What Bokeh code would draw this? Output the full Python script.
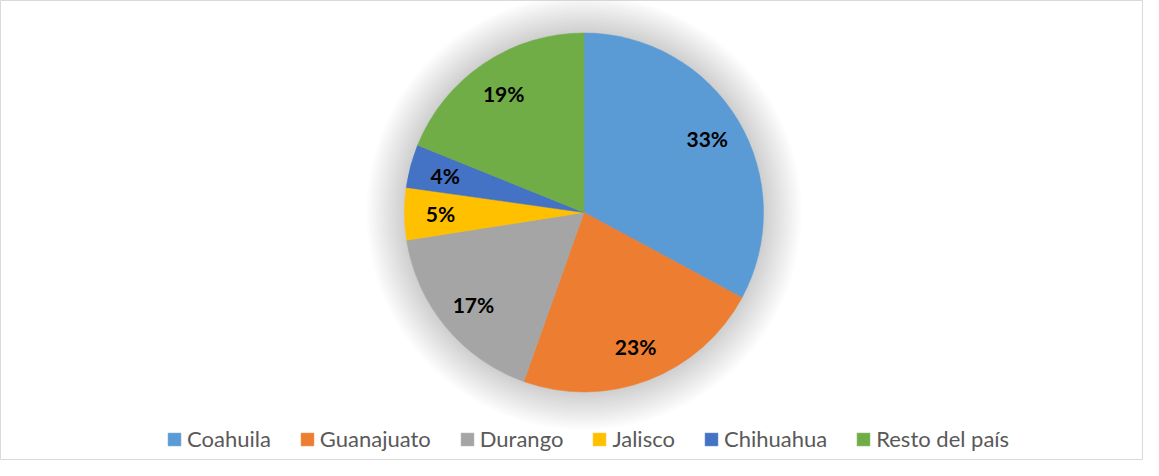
import numpy as np
from bokeh.plotting import figure
from bokeh.models import Range1d, Legend, LegendItem, ColumnDataSource
from bokeh.core.properties import value
from bokeh.embed import file_html
from bokeh.resources import INLINE

# ---- data ----
states = ["Coahuila", "Guanajuato", "Durango", "Jalisco", "Chihuahua", "Resto del país"]
shares = [32.9, 22.6, 17.1, 4.7, 3.9, 18.9]
colors = ["#5B9BD5", "#ED7D31", "#A5A5A5", "#FFC000", "#4472C4", "#70AD47"]

W, H = 1143, 460
CX, CY, R = 583.5, H - 212, 179.5

vals = np.array(shares, dtype=float)
frac = vals / vals.sum()
cum = np.concatenate([[0.0], np.cumsum(frac)])
start = np.pi / 2 - 2 * np.pi * cum[:-1]
end = np.pi / 2 - 2 * np.pi * cum[1:]
mid = (start + end) / 2
lr = 0.80 * R
labels = [f"{round(v)}%" for v in shares]

src = ColumnDataSource(dict(state=states, start=start, end=end, color=colors,
                            lx=CX + lr * np.cos(mid), ly=CY + lr * np.sin(mid),
                            label=labels))

p = figure(width=W, height=H, output_backend="svg", toolbar_location=None,
           x_range=Range1d(0, W), y_range=Range1d(0, H), min_border=0)
p.axis.visible = False
p.grid.visible = False
p.outline_line_color = "#d9d9d9"
p.outline_line_width = 1
p.background_fill_color = "white"

# soft shadow around the pie
for k in range(1, 25):
    p.circle(x=[CX], y=[CY], radius=R + 1.6 * k, fill_color="black",
             fill_alpha=0.006, line_color=None)

renderers = []
for i in range(len(states)):
    r = p.wedge(x=CX, y=CY, radius=R, start_angle=start[i], end_angle=end[i],
                direction="clock", fill_color=colors[i], line_color=colors[i],
                line_width=0.5)
    renderers.append(r)

p.text(x="lx", y="ly", text="label", source=src, text_align="center",
       text_baseline="middle", text_font=value("Lato"), text_font_style="bold",
       text_font_size="21px", text_color="black")

legend = Legend(items=[LegendItem(label=s, renderers=[r]) for s, r in zip(states, renderers)],
                orientation="horizontal", location=(166, 8))
legend.border_line_color = None
legend.background_fill_alpha = 0
legend.padding = 0
legend.margin = 0
legend.spacing = 28
legend.glyph_width = 16
legend.glyph_height = 16
legend.label_standoff = 5
legend.label_height = 22
legend.label_text_font = "Lato"
legend.label_text_font_size = "22px"
legend.label_text_color = "#595959"
p.add_layout(legend, "center")

open("out.html", "w").write(file_html(p, INLINE))
